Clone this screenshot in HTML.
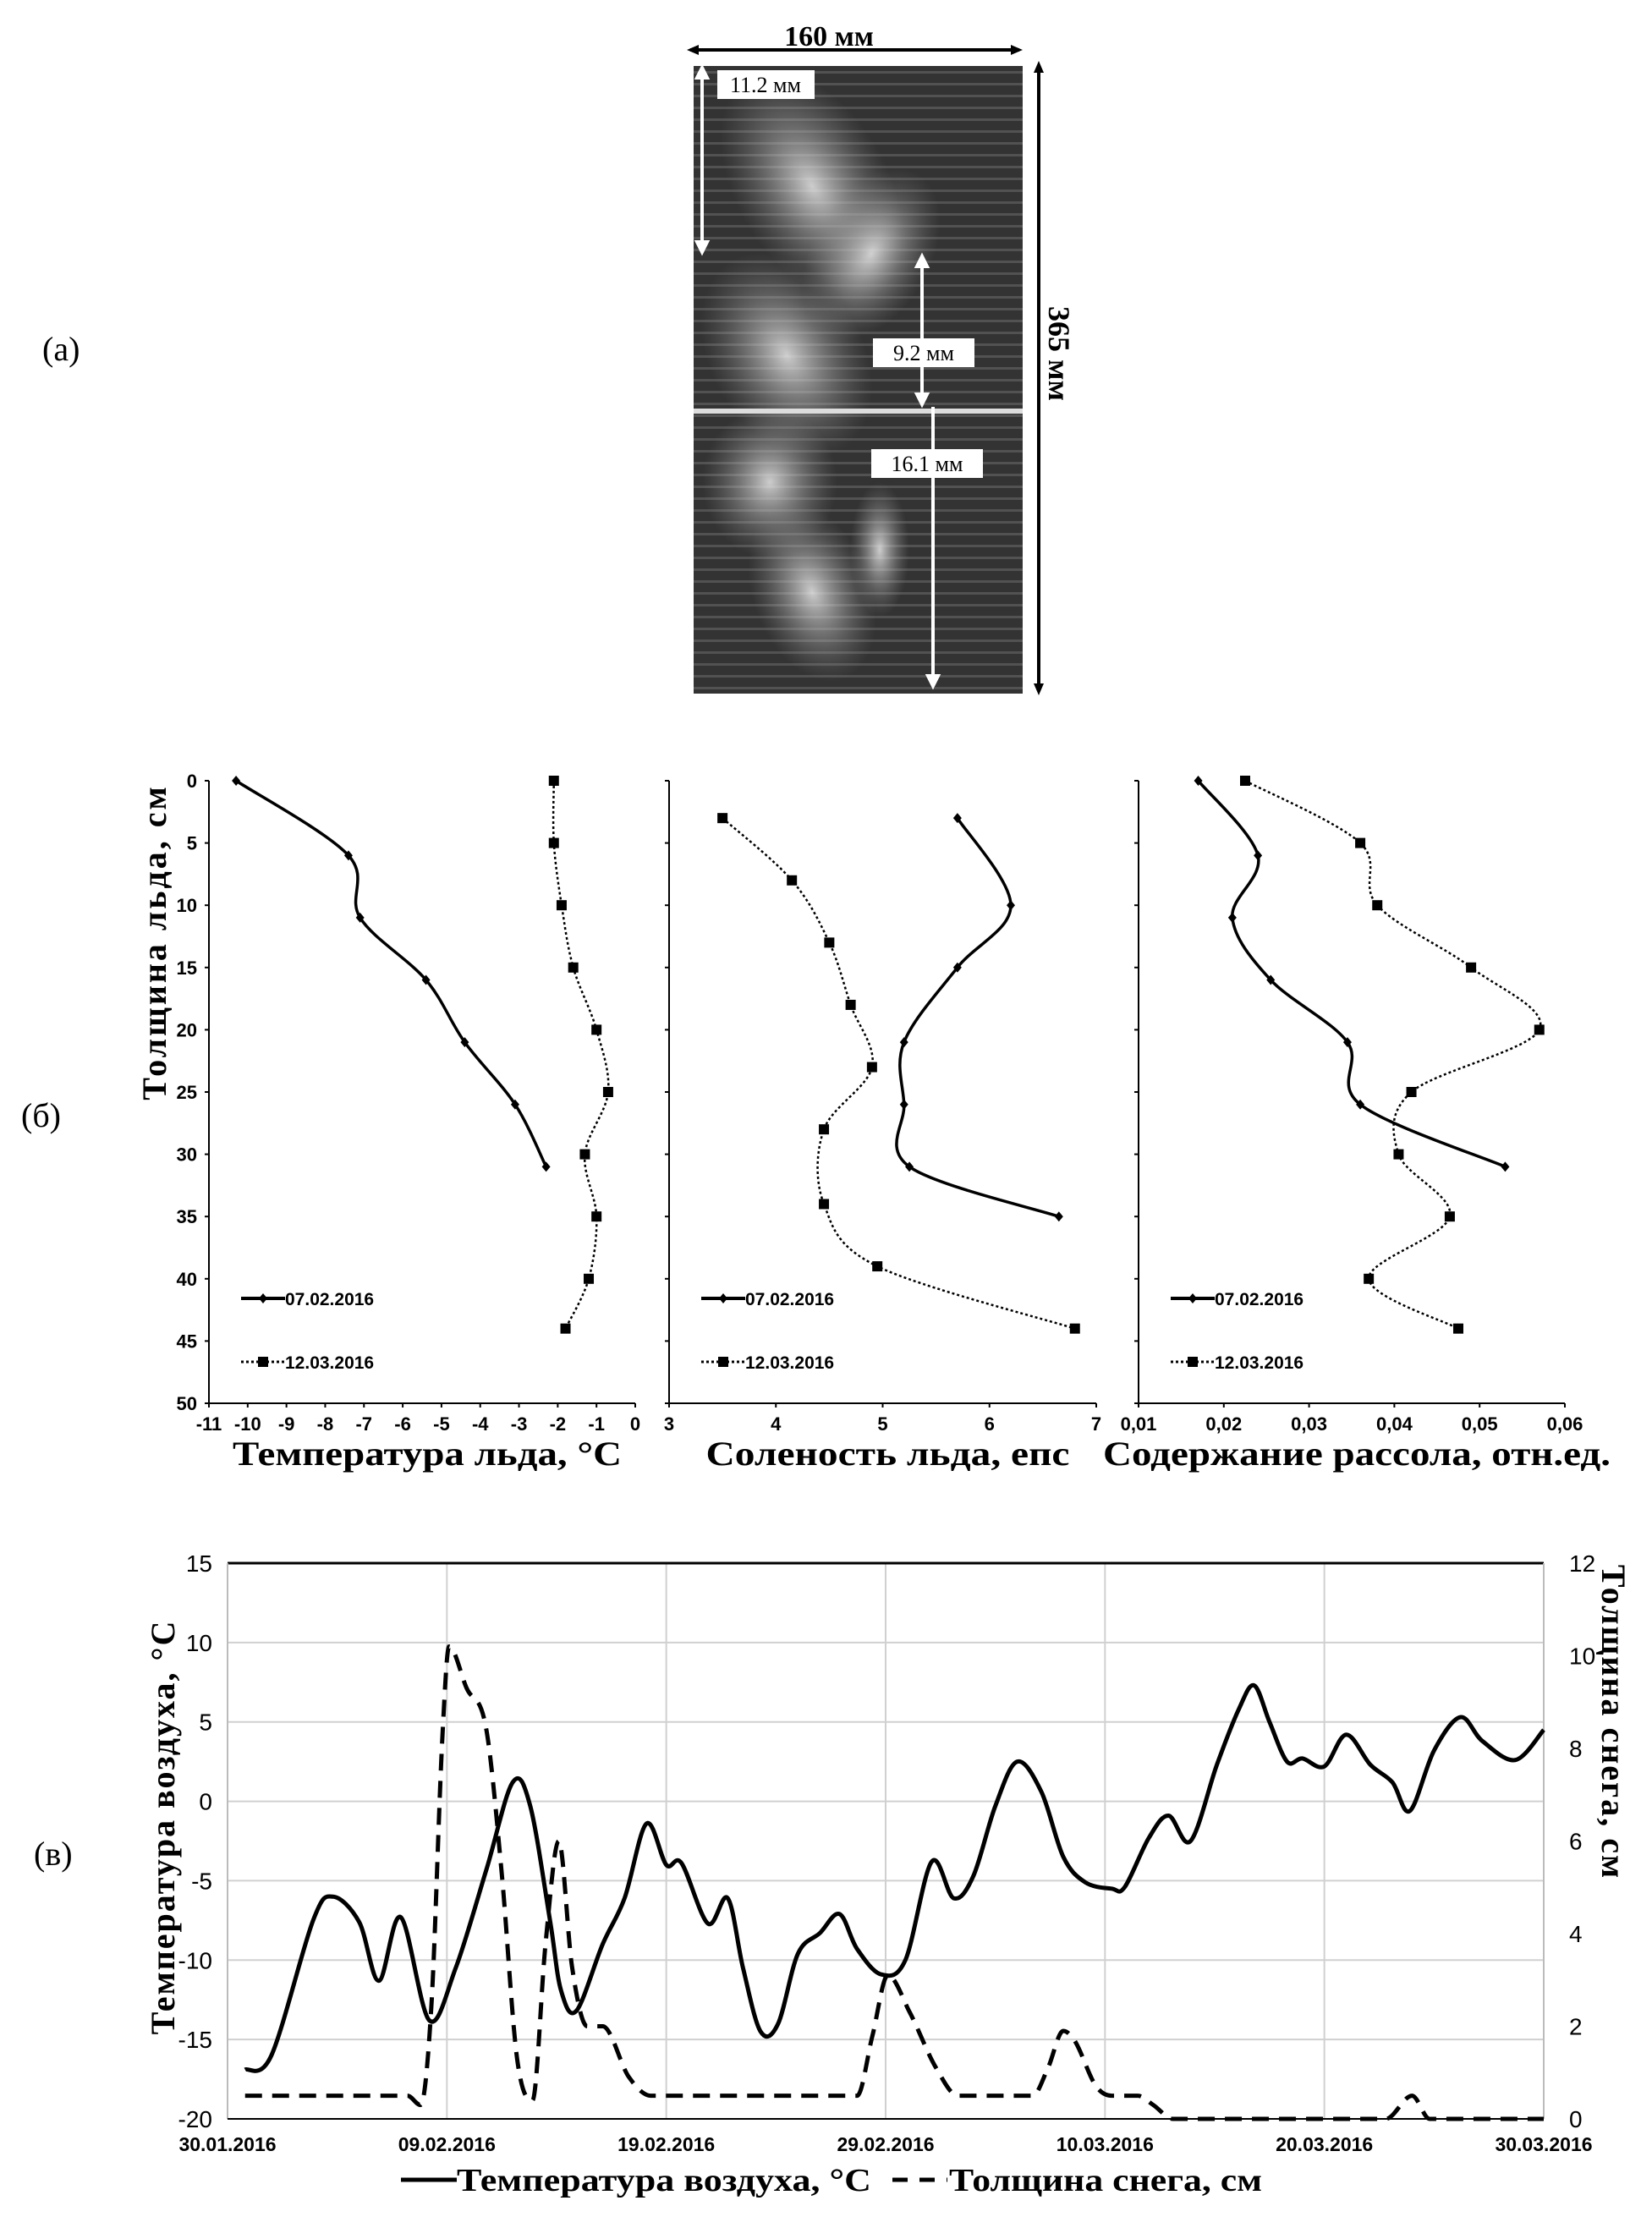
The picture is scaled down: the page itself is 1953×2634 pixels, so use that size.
<!DOCTYPE html>
<html><head><meta charset="utf-8"><style>
body{margin:0;background:#fff}
svg{display:block}
text{font-family:"Liberation Sans Narrow","Liberation Sans",sans-serif}
.ser{font-family:"Liberation Serif",serif}
</style></head><body>
<svg id="s" width="1953" height="2634" viewBox="0 0 1953 2634" xmlns="http://www.w3.org/2000/svg">
<defs>
<radialGradient id="g1" cx="50%" cy="50%" r="50%"><stop offset="0" stop-color="#e8e8e8" stop-opacity="0.85"/><stop offset="1" stop-color="#888" stop-opacity="0"/></radialGradient>
<pattern id="stripes" width="10" height="14" patternUnits="userSpaceOnUse"><rect y="0" width="10" height="3" fill="#777" opacity="0.45"/></pattern>
</defs>
<g>
<text x="50" y="426" font-size="40" class="ser">(а)</text>
<rect x="820" y="78" width="389" height="742" fill="#333"/>
<rect x="820" y="78" width="389" height="742" fill="url(#stripes)"/>
<ellipse cx="960" cy="220" rx="90" ry="150" fill="url(#g1)" transform="rotate(-30 960 220)"/>
<ellipse cx="1030" cy="300" rx="70" ry="110" fill="url(#g1)" transform="rotate(30 1030 300)"/>
<ellipse cx="930" cy="420" rx="90" ry="130" fill="url(#g1)" transform="rotate(-30 930 420)"/>
<ellipse cx="910" cy="570" rx="80" ry="90" fill="url(#g1)"/>
<ellipse cx="960" cy="700" rx="70" ry="110" fill="url(#g1)" transform="rotate(-20 960 700)"/>
<ellipse cx="1040" cy="650" rx="35" ry="80" fill="url(#g1)"/>
<rect x="820" y="483" width="389" height="6" fill="#ddd"/>
<line x1="816" y1="59" x2="1205" y2="59" stroke="#000" stroke-width="4"/>
<path d="M812 59l14-6v12zM1209 59l-14-6v12z" fill="#000"/>
<text x="980" y="54" font-size="34" font-weight="bold" text-anchor="middle" class="ser">160 мм</text>
<line x1="1228" y1="78" x2="1228" y2="816" stroke="#000" stroke-width="4"/>
<path d="M1228 72l-6 14h12zM1228 822l-6-14h12z" fill="#000"/>
<text transform="translate(1240 418) rotate(90)" font-size="36" font-weight="bold" text-anchor="middle" class="ser">365 мм</text>
<g stroke="#fff" stroke-width="4" fill="#fff">
<line x1="830" y1="86" x2="830" y2="292"/><path d="M830 80l-6 12h12zM830 298l-6-12h12z"/>
<line x1="1090" y1="309" x2="1090" y2="472"/><path d="M1090 303l-6 12h12zM1090 478l-6-12h12z"/>
<line x1="1103" y1="481" x2="1103" y2="805"/><path d="M1103 811l-6-12h12z"/>
</g>
<rect x="848" y="83" width="115" height="34" fill="#fff"/>
<text x="905" y="109" font-size="26" text-anchor="middle" class="ser">11.2 мм</text>
<rect x="1032" y="400" width="120" height="34" fill="#fff"/>
<text x="1092" y="426" font-size="26" text-anchor="middle" class="ser">9.2 мм</text>
<rect x="1030" y="531" width="132" height="34" fill="#fff"/>
<text x="1096" y="557" font-size="26" text-anchor="middle" class="ser">16.1 мм</text>
</g>
<g id="pb">
<text x="25" y="1332" font-size="40" class="ser">(б)</text>
<text transform="translate(196 1114) rotate(-90)" font-size="40" font-weight="bold" text-anchor="middle" class="ser" letter-spacing="3">Толщина льда, см</text>
</g>
<g id="pc">
<text x="40" y="2205" font-size="40" class="ser">(в)</text>
</g>
</svg>
<script>
const NS='http://www.w3.org/2000/svg';
// ---- panel б data ----
const depthA=[0,6,11,16,21,26,31];
const tempA=[-10.3,-7.4,-7.1,-5.4,-4.4,-3.1,-2.3];
const depthB=[0,5,10,15,20,25,30,35,40,44];
const tempB=[-2.1,-2.1,-1.9,-1.6,-1.0,-0.7,-1.3,-1.0,-1.2,-1.8];
const salDepthA=[3,10,15,21,26,31,35];
const salA=[5.7,6.2,5.7,5.2,5.2,5.25,6.65];
const salDepthB=[3,8,13,18,23,28,34,39,44];
const salB=[3.5,4.15,4.5,4.7,4.9,4.45,4.45,4.95,6.8];
const brineA=[0.017,0.024,0.021,0.0255,0.0345,0.036,0.053];
const brineB=[0.0225,0.036,0.038,0.049,0.057,0.042,0.0405,0.0465,0.037,0.0475];
const depthTicks=[0,5,10,15,20,25,30,35,40,45,50];
const tempTicks=[-11,-10,-9,-8,-7,-6,-5,-4,-3,-2,-1,0];
const salTicks=[3,4,5,6,7];
const brineTicks=['0,01','0,02','0,03','0,04','0,05','0,06'];
// ---- panel в data ----
const tDays=[0.8,2,3.9,4.8,6,6.9,7.9,9.2,10.4,11.8,13,13.8,14.7,15.2,15.9,17.1,18.1,19.1,20,20.7,21.9,22.8,23.5,24.3,25.1,26,27,27.9,28.7,29.8,30.9,32.1,33.1,34,35,36,37.1,38.1,39.1,40.3,40.9,42,42.9,43.9,45.1,46.1,46.8,47.5,48.3,49,50,51,52.1,53.1,53.9,55,56.2,57.2,58.7,60];
const airTemp=[-16.9,-16,-7.5,-6,-7.6,-11.3,-7.3,-13.8,-10.5,-4.3,1.2,-0.3,-7.5,-11.9,-13.2,-9,-6.1,-1.4,-4,-3.9,-7.7,-6.1,-10.5,-14.5,-14,-9.6,-8.3,-7.1,-9.3,-10.9,-10,-3.8,-6.1,-4.7,-0.3,2.5,0.6,-3.5,-5.1,-5.5,-5.4,-2.3,-0.9,-2.5,2.3,5.8,7.3,5,2.5,2.7,2.2,4.2,2.3,1.2,-0.6,3.2,5.3,3.8,2.6,4.5];
const sDays=[0.8,8.2,8.8,9.3,9.8,10.1,10.9,11.8,12.5,13.2,13.9,14.5,15.1,15.7,16.4,17.1,18.3,19.3,28.7,29.4,30.1,31.1,32.3,33.3,36.7,37.4,38.1,38.6,39.6,40.3,41.5,42.2,43.1,52.8,54,54.8,60];
const snow=[0.5,0.5,0.3,2.5,8.3,10.2,9.3,8.4,5.3,1.3,0.4,3.8,6,3.3,2,2,0.9,0.5,0.5,1.8,3.1,2.3,1.1,0.5,0.5,1.1,1.9,1.7,0.7,0.5,0.5,0.3,0,0,0.5,0,0];
const leftTicks=[15,10,5,0,-5,-10,-15,-20];
const rightTicks=[12,10,8,6,4,2,0];
const dateLabels=['30.01.2016','09.02.2016','19.02.2016','29.02.2016','10.03.2016','20.03.2016','30.03.2016'];

function el(tag,attrs,parent,txt){const e=document.createElementNS(NS,tag);for(const k in attrs)e.setAttribute(k,attrs[k]);if(txt!==undefined)e.textContent=txt;parent.appendChild(e);return e;}
function smooth(pts){let d='M'+pts[0][0]+' '+pts[0][1];for(let i=0;i<pts.length-1;i++){const p0=pts[i-1]||pts[i],p1=pts[i],p2=pts[i+1],p3=pts[i+2]||p2;const c1=[p1[0]+(p2[0]-p0[0])/6,p1[1]+(p2[1]-p0[1])/6],c2=[p2[0]-(p3[0]-p1[0])/6,p2[1]-(p3[1]-p1[1])/6];d+=` C${c1[0]} ${c1[1]} ${c2[0]} ${c2[1]} ${p2[0]} ${p2[1]}`;}return d;}
function monotone(pts){const n=pts.length,dx=[],s=[],m=[];
  for(let i=0;i<n-1;i++){dx[i]=pts[i+1][0]-pts[i][0];s[i]=(pts[i+1][1]-pts[i][1])/dx[i];}
  m[0]=s[0];m[n-1]=s[n-2];
  for(let i=1;i<n-1;i++){m[i]=(s[i-1]*s[i]<=0)?0:(s[i-1]+s[i])/2;}
  for(let i=0;i<n-1;i++){if(s[i]===0){m[i]=0;m[i+1]=0;continue;}const a=m[i]/s[i],b=m[i+1]/s[i],h=a*a+b*b;if(h>9){const t=3/Math.sqrt(h);m[i]=t*a*s[i];m[i+1]=t*b*s[i];}}
  let d='M'+pts[0][0]+' '+pts[0][1];
  for(let i=0;i<n-1;i++){const h=dx[i]/3;d+=` C${pts[i][0]+h} ${pts[i][1]+m[i]*h} ${pts[i+1][0]-h} ${pts[i+1][1]-m[i+1]*h} ${pts[i+1][0]} ${pts[i+1][1]}`;}
  return d;}

const pb=document.getElementById('pb');
const yTop=923,yBot=1659;
const yD=v=>yTop+(yBot-yTop)*v/50;
function profile(x0,x1,vmin,vmax,ticks,tickVals,dA,vA,dB,vB,title,name,showY){
  const g=el('g',{},pb);
  
  
  const xs=v=>x0+(x1-x0)*(v-vmin)/(vmax-vmin);
  el('line',{x1:x0,y1:yTop,x2:x0,y2:yBot,stroke:'#000','stroke-width':2},g);
  el('line',{x1:x0,y1:yBot,x2:x1,y2:yBot,stroke:'#000','stroke-width':2},g);
  depthTicks.forEach(t=>{el('line',{x1:x0-5,y1:yD(t),x2:x0,y2:yD(t),stroke:'#000','stroke-width':2},g);
    if(showY){const tl=el('text',{x:x0-14,y:yD(t)+8,'font-size':22,'font-weight':'bold','text-anchor':'end'},g,t);}});
  tickVals.forEach((v,i)=>{const x=xs(v);el('line',{x1:x,y1:yBot,x2:x,y2:yBot+5,stroke:'#000','stroke-width':2},g);
    const tl=el('text',{x:x,y:yBot+32,'font-size':22,'font-weight':'bold','text-anchor':'middle'},g,ticks[i]);});
  const ptsA=dA.map((d,i)=>[xs(vA[i]),yD(d)]);
  const ptsB=dB.map((d,i)=>[xs(vB[i]),yD(d)]);
  const la=el('path',{d:smooth(ptsA),fill:'none',stroke:'#000','stroke-width':3.5},g);
  
  ptsA.forEach(p=>{const m=el('path',{d:`M${p[0]} ${p[1]-6}l5 6l-5 6l-5-6z`,fill:'#000'},g);});
  const lb=el('path',{d:smooth(ptsB),fill:'none',stroke:'#000','stroke-width':2.5,'stroke-dasharray':'3 3'},g);
  
  ptsB.forEach(p=>{const m=el('rect',{x:p[0]-6,y:p[1]-6,width:12,height:12,fill:'#000'},g);});
  const lx=x0+38;
  const l1=el('g',{},g);
  el('line',{x1:lx,y1:1535,x2:lx+52,y2:1535,stroke:'#000','stroke-width':4},l1);
  el('path',{d:`M${lx+26} 1529l5 6l-5 6l-5-6z`},l1);
  el('text',{x:lx+52,y:1543,'font-size':21,'font-weight':'bold'},l1,'07.02.2016');
  const l2=el('g',{},g);
  el('line',{x1:lx,y1:1610,x2:lx+52,y2:1610,stroke:'#000','stroke-width':3,'stroke-dasharray':'3 3'},l2);
  el('rect',{x:lx+20,y:1604,width:12,height:12},l2);
  el('text',{x:lx+52,y:1618,'font-size':21,'font-weight':'bold'},l2,'12.03.2016');
  const tt=el('text',{x:(x0+x1)/2+6,y:1732,'font-size':40,'font-weight':'bold','text-anchor':'middle',class:'ser',textLength:title[1],lengthAdjust:'spacingAndGlyphs'},g,title[0]);
  
}
profile(247,751,-11,0,tempTicks,tempTicks,depthA,tempA,depthB,tempB,['Температура льда, °С',460],'chart-ice-temperature',true);
profile(791,1296,3,7,salTicks,salTicks,salDepthA,salA,salDepthB,salB,['Соленость льда, епс',430],'chart-ice-salinity',false);
profile(1346,1850,0.01,0.06,brineTicks,[0.01,0.02,0.03,0.04,0.05,0.06],depthA,brineA,depthB,brineB,['Содержание рассола, отн.ед.',600],'chart-brine-content',false);

// panel в
const pc=document.getElementById('pc');
const X0=269,X1=1825,Y0=1848,Y1=2505;
const xDay=d=>X0+(X1-X0)*d/60;
const yT=t=>Y0+(Y1-Y0)*(15-t)/35;
const yS=s=>Y0+(Y1-Y0)*(12-s)/12;
leftTicks.forEach(t=>{if(t!==15&&t!==-20){const gl=el('line',{x1:X0,y1:yT(t),x2:X1,y2:yT(t),stroke:'#d0d0d0','stroke-width':2},pc);}
  const tl=el('text',{x:X0-18,y:yT(t)+10,'font-size':28,'text-anchor':'end'},pc,t);});
rightTicks.forEach(t=>{const tl=el('text',{x:X1+30,y:yS(t)+10,'font-size':28},pc,t);});
dateLabels.forEach((d,i)=>{const x=xDay(i*10);if(i>0&&i<6){const gl=el('line',{x1:x,y1:Y0,x2:x,y2:Y1,stroke:'#d0d0d0','stroke-width':2},pc);}
  const tl=el('text',{x:x,y:2543,'font-size':23,'font-weight':'bold','text-anchor':'middle'},pc,d);});
el('line',{x1:X0,y1:Y0,x2:X1,y2:Y0,stroke:'#000','stroke-width':3},pc);
el('line',{x1:X0,y1:Y0,x2:X0,y2:Y1,stroke:'#bbb','stroke-width':2},pc);
el('line',{x1:X1,y1:Y0,x2:X1,y2:Y1,stroke:'#bbb','stroke-width':2},pc);
el('line',{x1:X0,y1:Y1,x2:X1,y2:Y1,stroke:'#000','stroke-width':2},pc);
const airLine=el('path',{d:smooth(tDays.map((d,i)=>[xDay(d),yT(airTemp[i])])),fill:'none',stroke:'#000','stroke-width':5},pc);


const snowLine=el('path',{d:monotone(sDays.map((d,i)=>[xDay(d),yS(snow[i])])),fill:'none',stroke:'#000','stroke-width':5,'stroke-dasharray':'20 12'},pc);


const lt=el('text',{transform:'translate(206 2160) rotate(-90)','font-size':40,'font-weight':'bold','text-anchor':'middle',class:'ser','letter-spacing':'2'},pc,'Температура воздуха, °С');


const rt=el('text',{transform:'translate(1894 2036) rotate(90)','font-size':40,'font-weight':'bold','text-anchor':'middle',class:'ser','letter-spacing':'2'},pc,'Толщина снега, см');


const lg=el('g',{},pc);


el('line',{x1:474,y1:2577,x2:540,y2:2577,stroke:'#000','stroke-width':5},lg);
el('text',{x:540,y:2590,'font-size':38,'font-weight':'bold',class:'ser',textLength:490,lengthAdjust:'spacingAndGlyphs'},lg,'Температура воздуха, °С');
el('line',{x1:1055,y1:2577,x2:1120,y2:2577,stroke:'#000','stroke-width':5,'stroke-dasharray':'18 14'},lg);
el('text',{x:1122,y:2590,'font-size':38,'font-weight':'bold',class:'ser',textLength:370,lengthAdjust:'spacingAndGlyphs'},lg,'Толщина снега, см');
</script>
</body></html>
